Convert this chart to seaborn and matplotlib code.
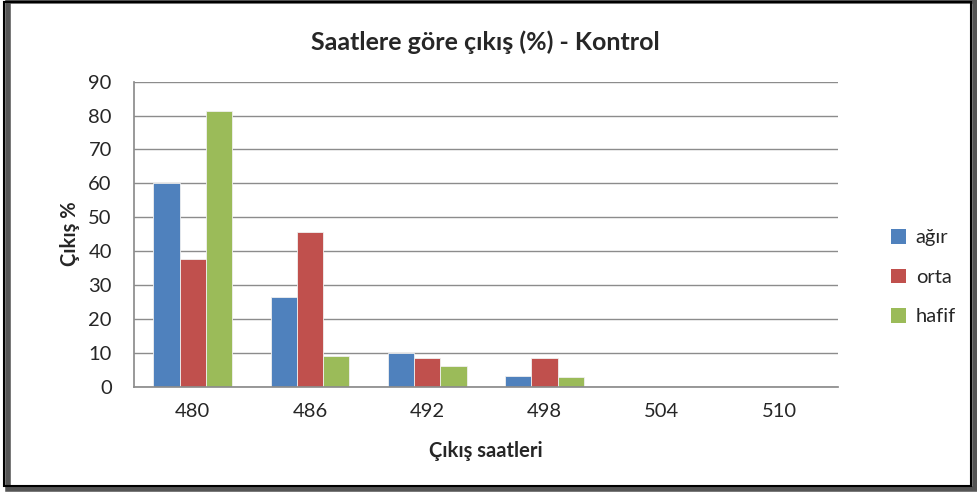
import pandas as pd
import matplotlib
matplotlib.use("Agg")
import matplotlib.pyplot as plt
import seaborn as sns
from matplotlib.patches import Rectangle, Patch

hours = ["480", "486", "492", "498", "504", "510"]
agir = [60.0, 26.4, 9.8, 3.2, 0, 0]
orta = [37.6, 45.7, 8.4, 8.4, 0, 0]
hafif = [81.3, 9.2, 6.1, 2.9, 0, 0]
groups = ["ağır", "orta", "hafif"]
colors = ["#4F81BD", "#C0504D", "#9BBB59"]

df = pd.DataFrame({"saat": hours * 3,
                   "grup": [g for g in groups for _ in hours],
                   "cikis": agir + orta + hafif})

sns.set_theme(style="white")
plt.rcParams["font.family"] = ["Lato", "DejaVu Sans"]

fig = plt.figure(figsize=(9.77, 4.95), dpi=100)
ax = fig.add_axes([0.1372, 0.2188, 0.7202, 0.6162])

sns.barplot(data=df, x="saat", y="cikis", hue="grup", order=hours,
            hue_order=groups, palette=colors, width=0.67, saturation=1,
            edgecolor="#f0f0f0", linewidth=0.6, legend=False, ax=ax)

ax.set_ylim(0, 90)
ax.set_yticks(range(0, 91, 10))
ax.set_xlim(-0.5, len(hours) - 0.5)
ax.yaxis.grid(True, color="#8c8c8c", linewidth=1.0)
ax.set_axisbelow(True)
for s in ["top", "right"]:
    ax.spines[s].set_visible(False)
ax.spines["left"].set_color("#8c8c8c")
ax.spines["bottom"].set_color("#8c8c8c")
ax.tick_params(axis="y", length=7, color="#8c8c8c", width=1, labelsize=14.5, pad=9)
ax.tick_params(axis="x", length=0, labelsize=14.5, pad=12)

ax.set_xlabel("Çıkış saatleri", fontsize=14.5, fontweight="bold", labelpad=15)
ax.set_ylabel("Çıkış %", fontsize=14.5, fontweight="bold", labelpad=6)
fig.text(0.497, 0.915, "Saatlere göre çıkış (%) - Kontrol", ha="center",
         va="center", fontsize=18, fontweight="bold")

handles = [Patch(facecolor=c, edgecolor="none") for c in colors]
fig.legend(handles, groups, loc="center left", bbox_to_anchor=(0.893, 0.44),
           frameon=False, fontsize=14.5, handlelength=0.75, handleheight=0.75,
           labelspacing=1.1, handletextpad=0.5)

# chart frame with shadow
fig.patches.append(Rectangle((0.008, 0.012), 0.99, 0.985, transform=fig.transFigure,
                             fill=False, edgecolor="#555555", linewidth=4))
fig.patches.append(Rectangle((0.004, 0.018), 0.99, 0.978, transform=fig.transFigure,
                             fill=False, edgecolor="black", linewidth=1.5))

fig.savefig("out.png", dpi=100)
